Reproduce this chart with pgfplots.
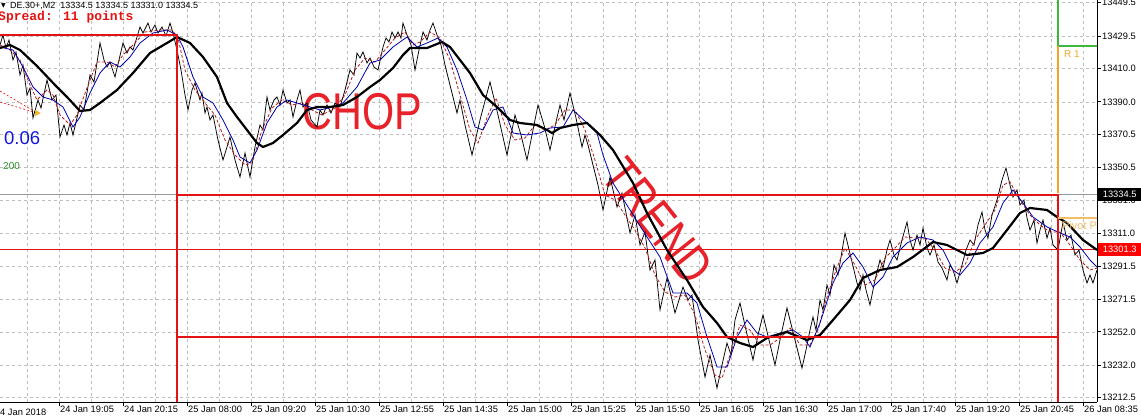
\documentclass[border=0pt]{standalone}
\usepackage{pgfplots}
\usepackage{pgfplotstable}
\pgfplotsset{compat=1.18}
\usepackage{fontspec}
\setmainfont{Liberation Sans}
\newfontfamily\monob{Liberation Mono}
\newfontfamily\dejavu{DejaVu Sans}
\definecolor{mtred}{RGB}{228,18,18}
\definecolor{chopred}{RGB}{232,34,42}
\definecolor{marred}{RGB}{185,25,25}
\definecolor{mablue}{RGB}{0,0,170}
\definecolor{mtgreen}{RGB}{60,185,60}
\definecolor{mtorange}{RGB}{240,165,40}
\definecolor{pivot}{RGB}{242,190,105}
\definecolor{gridgray}{RGB}{190,190,190}
\definecolor{valblue}{RGB}{20,20,225}
\definecolor{valgreen}{RGB}{40,140,40}

\pgfplotstableread{
x y
0 13424.1
3 13430.1
6 13422.3
9 13427.1
13 13415.1
16 13419.9
20 13406.1
23 13412.1
27 13394.1
30 13398.3
33 13380.3
38 13391.1
41 13386.3
47 13403.1
52 13391.1
56 13394.1
60 13368.9
64 13376.1
67 13370.1
70 13377.3
73 13370.1
80 13388.1
84 13385.1
90 13406.1
94 13401.9
100 13425.3
104 13415.1
107 13410.9
110 13413.9
115 13404.9
119 13415.1
123 13425.3
127 13419.3
130 13422.9
133 13421.1
137 13428.9
140 13434.9
143 13431.3
148 13437.3
151 13431.9
155 13436.1
158 13431.3
162 13434.9
166 13429.5
170 13437.3
173 13431.3
177 13421.1
181 13409.1
185 13394.1
188 13385.1
192 13397.1
195 13401.3
200 13391.1
202 13395.3
205 13383.3
207 13386.9
210 13379.1
213 13382.1
218 13367.1
223 13355.1
227 13362.9
230 13368.9
235 13355.1
240 13344.9
245 13359.3
250 13344.9
255 13362.9
260 13376.1
263 13373.1
267 13392.9
270 13385.1
274 13391.1
277 13392.9
280 13388.1
283 13397.1
287 13389.3
290 13391.1
293 13380.9
297 13391.1
300 13397.1
303 13386.9
307 13389.3
311 13379.1
317 13374.9
320 13385.1
323 13382.1
327 13388.1
331 13383.3
335 13389.3
340 13386.9
345 13397.1
350 13409.1
354 13406.1
357 13419.3
360 13416.3
363 13419.9
367 13413.3
370 13416.3
374 13410.9
378 13409.1
383 13422.9
386 13428.3
389 13425.9
392 13431.9
395 13428.3
398 13431.9
401 13428.3
403 13437.3
407 13430.1
411 13424.1
415 13409.1
419 13421.1
423 13431.9
427 13427.1
430 13433.1
433 13437.3
437 13430.1
441 13424.1
445 13412.1
450 13400.1
457 13383.3
460 13391.1
465 13376.1
472 13358.1
480 13379.1
490 13401.9
498 13382.1
507 13358.1
515 13382.1
521 13370.1
527 13355.1
533 13373.1
538 13388.1
544 13376.1
550 13361.1
556 13377.9
560 13388.1
564 13379.1
570 13395.3
576 13380.3
582 13362.9
585 13370.1
588 13364.1
593 13352.1
598 13340.1
603 13325.1
610 13344.9
617 13326.9
622 13335.3
630 13311.3
635 13322.1
640 13304.1
645 13311.9
650 13289.1
655 13295.1
660 13265.1
667 13284.3
675 13263.3
683 13278.9
688 13271.1
692 13274.1
698 13247.1
705 13224.9
710 13238.1
717 13218.3
722 13232.1
727 13245.3
731 13238.1
735 13259.1
740 13269.3
746 13253.1
753 13235.1
758 13250.1
763 13262.1
769 13247.1
775 13232.1
781 13250.1
787 13266.3
795 13247.1
802 13230.3
806 13241.1
810 13253.1
813 13260.9
816 13253.1
820 13271.1
823 13265.1
827 13280.1
830 13274.1
834 13292.1
838 13286.1
845 13311.3
852 13293.9
857 13281.3
860 13277.1
863 13286.1
866 13277.1
870 13268.1
875 13283.1
880 13295.1
883 13290.3
887 13301.1
890 13307.1
894 13298.1
897 13295.1
902 13307.1
907 13317.9
910 13307.1
913 13301.1
917 13310.1
920 13304.1
923 13314.3
927 13302.3
930 13298.1
934 13304.1
938 13293.9
942 13290.3
947 13283.1
950 13292.1
953 13289.1
957 13281.3
962 13292.1
966 13301.1
970 13307.1
974 13304.1
978 13316.1
982 13323.9
985 13313.1
988 13308.3
992 13322.1
997 13331.1
1002 13343.1
1006 13350.3
1010 13340.1
1013 13332.9
1017 13337.1
1020 13328.1
1024 13331.1
1027 13320.3
1030 13313.1
1034 13319.1
1037 13305.3
1040 13313.1
1043 13319.1
1047 13308.3
1050 13314.3
1053 13304.1
1058 13301.1
1063 13317.9
1067 13307.1
1071 13310.1
1075 13298.1
1079 13301.1
1083 13289.1
1087 13281.3
1090 13286.1
1093 13281.3
1097 13289.1
}\price

\pgfplotstableread{
x y
0 13422.3
10 13424.1
20 13421.1
37 13411.5
55 13400.1
67 13392.9
80 13384.5
90 13385.1
100 13389.3
117 13397.1
133 13407.3
150 13419.3
167 13425.3
177 13428.9
190 13425.3
203 13416.9
217 13404.9
227 13389.3
237 13380.9
247 13373.1
257 13365.3
263 13362.9
273 13365.3
283 13370.1
297 13377.3
307 13385.1
317 13386.9
330 13386.9
343 13388.1
357 13392.9
370 13398.9
380 13403.1
393 13410.3
403 13418.1
410 13422.3
427 13422.3
442 13425.9
450 13422.9
460 13415.1
470 13407.3
483 13394.1
497 13386.9
510 13379.1
520 13377.3
537 13376.1
547 13373.1
552 13371.3
560 13374.3
573 13376.1
587 13377.3
600 13370.1
613 13361.1
633 13341.3
647 13323.3
667 13301.1
687 13283.1
703 13266.9
717 13257.3
727 13248.9
740 13245.3
753 13242.9
767 13248.3
787 13251.9
807 13247.1
820 13250.1
833 13259.1
850 13271.1
863 13284.3
880 13289.1
897 13290.9
913 13296.9
933 13305.9
947 13304.1
967 13298.1
983 13299.3
993 13302.3
1007 13313.1
1020 13323.3
1030 13326.3
1047 13325.1
1057 13320.9
1067 13317.3
1083 13307.1
1097 13301.1
}\slowma

\pgfplotstableread{
x y
0 13422.9
13 13421.1
23 13410.9
33 13398.9
43 13392.9
53 13391.1
63 13386.9
73 13374.9
80 13380.9
90 13395.3
100 13407.3
110 13413.9
120 13410.9
130 13416.9
140 13425.3
153 13431.3
167 13433.1
177 13430.1
183 13422.9
193 13404.9
203 13392.9
213 13389.3
223 13379.1
233 13367.1
240 13356.9
250 13353.3
257 13361.1
267 13377.3
277 13386.9
287 13391.1
297 13389.3
310 13386.9
320 13385.1
333 13386.9
343 13389.3
357 13398.9
370 13413.3
380 13415.1
393 13422.9
407 13428.9
417 13422.9
427 13425.3
438 13428.3
447 13422.9
457 13409.1
467 13391.1
475 13374.9
483 13373.1
493 13385.1
503 13386.9
513 13371.3
527 13370.1
540 13371.3
550 13374.3
563 13374.9
573 13385.1
587 13377.3
597 13371.3
603 13358.1
613 13341.3
630 13325.1
647 13308.9
660 13296.9
673 13275.3
687 13275.3
697 13269.3
707 13248.9
717 13230.9
727 13230.9
737 13248.9
747 13259.1
757 13251.3
767 13248.9
780 13251.3
793 13253.1
803 13248.9
810 13242.9
820 13257.3
833 13281.3
843 13293.3
853 13299.3
863 13290.9
873 13278.9
883 13284.9
893 13296.9
907 13305.3
920 13308.9
933 13307.1
943 13301.1
953 13289.1
960 13286.1
970 13293.3
980 13305.3
993 13314.9
1003 13329.3
1013 13337.1
1023 13329.3
1033 13320.9
1047 13314.9
1060 13311.3
1070 13308.9
1080 13302.9
1090 13295.1
1097 13290.9
}\bluema

\pgfplotstableread{
x y
0 13424.1
10 13421.1
20 13415.1
30 13400.1
37 13391.1
47 13397.1
53 13394.1
60 13382.1
70 13376.1
77 13382.1
87 13398.3
97 13413.9
107 13413.9
115 13410.9
123 13418.1
133 13424.1
145 13431.9
160 13433.1
172 13433.1
178 13428.3
185 13409.1
195 13397.1
205 13389.3
215 13382.1
225 13367.1
235 13358.1
245 13352.1
252 13353.3
262 13373.1
272 13386.3
282 13391.1
292 13388.1
302 13389.3
312 13385.1
322 13382.1
335 13386.3
345 13394.1
355 13409.1
365 13416.3
375 13413.9
385 13421.1
395 13428.3
405 13431.9
413 13424.1
420 13425.9
430 13431.9
440 13428.3
450 13415.1
460 13394.1
470 13373.1
478 13365.3
488 13382.1
496 13392.3
505 13376.1
515 13367.1
525 13368.3
535 13376.1
545 13373.1
555 13376.1
565 13385.1
575 13385.1
585 13373.1
595 13355.1
605 13334.1
615 13331.1
625 13322.1
635 13313.1
645 13302.3
655 13286.1
665 13275.9
675 13272.9
685 13274.1
695 13262.1
705 13241.1
715 13226.1
722 13224.3
730 13238.1
740 13256.1
750 13253.1
760 13244.1
770 13244.1
780 13248.3
790 13254.3
800 13244.1
810 13244.1
818 13253.1
826 13271.1
836 13289.1
845 13302.3
855 13292.1
865 13280.1
875 13283.1
885 13296.3
895 13302.3
905 13308.9
915 13308.3
925 13308.3
935 13301.1
945 13290.3
955 13287.9
965 13292.1
975 13307.1
985 13316.1
995 13325.1
1003 13340.1
1010 13341.9
1020 13331.1
1030 13322.1
1040 13316.1
1050 13311.9
1060 13311.9
1070 13304.1
1080 13295.1
1090 13289.1
1097 13290.3
}\redma

\begin{document}
\begin{tikzpicture}[x=1pt,y=1pt]
\useasboundingbox (0,0) rectangle (1141,420);
\begin{axis}[
  at={(0pt,420pt)}, anchor=north west,
  scale only axis, width=1097pt, height=402pt,
  xmin=0, xmax=1097, ymin=13209.9, ymax=13451.1,
  axis x line*=bottom, axis y line*=right,
  axis line style={black, line width=0.8pt, -},
  xtick={59,123,...,1083},
  xticklabels={24 Jan 19:05,24 Jan 20:15,25 Jan 08:00,25 Jan 09:20,25 Jan 10:30,25 Jan 12:55,25 Jan 14:35,25 Jan 15:00,25 Jan 15:25,25 Jan 15:50,25 Jan 16:05,25 Jan 16:30,25 Jan 17:00,25 Jan 17:40,25 Jan 19:20,25 Jan 20:45,26 Jan 08:35},
  minor xtick={27,91,...,1051},
  ytick={13449.5,13429.5,13410.0,13390.0,13370.5,13350.5,13331.0,13311.0,13291.5,13271.5,13252.0,13232.0,13212.5},
  yticklabels={13449.5,13429.5,13410.0,13390.0,13370.5,13350.5,13331.0,13311.0,13291.5,13271.5,13252.0,13232.0,13212.5},
  grid=both,
  major grid style={gridgray, line width=0.6pt, dash pattern=on 3pt off 3pt},
  minor grid style={gridgray, line width=0.6pt, dash pattern=on 3pt off 3pt},
  tick align=outside, major tick length=4pt, minor tick length=0pt,
  tick style={black, line width=0.7pt},
  tick label style={font=\fontsize{9.3}{10}\selectfont, black},
  xticklabel style={anchor=north west, inner sep=1pt, xshift=0pt, yshift=1pt},
  yticklabel style={anchor=west, inner sep=1pt},
  /pgf/number format/assume math mode=true,
  clip=true,
]
% background texts (drawn under the price)
\node[text=chopred, font=\fontsize{51.7}{52}\selectfont, xscale=0.8, inner sep=0pt] at (axis cs:362.5,13384.2) {CHOP};
\node[text=chopred, font=\fontsize{51.7}{52}\selectfont, rotate=-51.5, xscale=0.8, inner sep=0pt] at (axis cs:658,13318.5) {TREND};

% bid and last lines
\addplot[gridgray!80!black, line width=0.6pt] coordinates {(0,13334.5) (1097,13334.5)};
\addplot[mtred, line width=1pt] coordinates {(0,13301.3) (1097,13301.3)};

% fib dashed lines
\addplot[mtred, line width=0.6pt, dash pattern=on 2pt off 2pt] coordinates {(0,13396.5) (37,13383.3)};
\addplot[mtred, line width=0.6pt, dash pattern=on 2pt off 2pt] coordinates {(0,13389.9) (37,13383.3)};

% series
\addplot[black, line width=0.75pt] table[x=x,y=y]{\price};
\addplot[marred, line width=0.8pt, dash pattern=on 3pt off 2pt] table[x=x,y=y]{\redma};
\addplot[mablue, line width=0.8pt] table[x=x,y=y]{\bluema};
\addplot[black, line width=2.2pt] table[x=x,y=y]{\slowma};

\addplot[only marks, mark=triangle*, mark size=3.2pt, color=mtorange!80!yellow, mark options={rotate=30}] coordinates {(37,13383.3)};

% rectangles and pivot objects
\addplot[mtred, line width=2.3pt] coordinates {(0,13430.1) (177,13430.1) (177,13209.9)};
\addplot[mtred, line width=2.3pt] coordinates {(177,13334.1) (1058,13334.1) (1058,13209.9)};
\addplot[mtred, line width=2.3pt] coordinates {(177,13248.9) (1058,13248.9)};
\addplot[mtgreen, line width=2pt] coordinates {(1058,13452) (1058,13423.2) (1097,13423.2)};
\addplot[mtorange, line width=2pt] coordinates {(1058,13423.2) (1058,13335.1)};
\addplot[pivot, line width=2.2pt] coordinates {(1058,13320.3) (1097,13320.3)};

\node[text=mtorange, anchor=west, font=\fontsize{10}{11}\selectfont, inner sep=0pt] at (axis cs:1064,13418.5) {R 1};
\node[text=pivot, anchor=west, font=\fontsize{11}{12}\selectfont, inner sep=0pt] at (axis cs:1062,13315.8) {Pivot P};
\end{axis}

% header texts
\node[anchor=west, inner sep=0pt, font=\dejavu\fontsize{6}{7}\selectfont] at (1,414.5) {▼};
\node[anchor=west, inner sep=0pt, font=\fontsize{9}{10}\selectfont] at (10,414.5) {DE.30+,M2\ \ 13334.5 13334.5 13331.0 13334.5};
\node[anchor=west, inner sep=0pt, text=mtred, font=\monob\bfseries\fontsize{13}{14}\selectfont] at (-2,403) {Spread: 11 points};
\node[anchor=west, inner sep=0pt, text=valblue, font=\fontsize{18.5}{19}\selectfont] at (4,282) {0.06};
\node[anchor=west, inner sep=0pt, text=valgreen, font=\fontsize{10}{11}\selectfont] at (3,254) {200};
\node[anchor=west, inner sep=0pt, font=\fontsize{9.3}{10}\selectfont] at (0,8) {4 Jan 2018};

% price boxes on the scale
\node[anchor=west, fill=black, text=white, minimum width=43pt, minimum height=13pt, inner sep=0pt, font=\fontsize{9.3}{10}\selectfont] at (1098,225.7) {13334.5};
\node[anchor=west, fill=red, text=white, minimum width=43pt, minimum height=13pt, inner sep=0pt, font=\fontsize{9.3}{10}\selectfont] at (1098,170.3) {13301.3};
\end{tikzpicture}
\end{document}
